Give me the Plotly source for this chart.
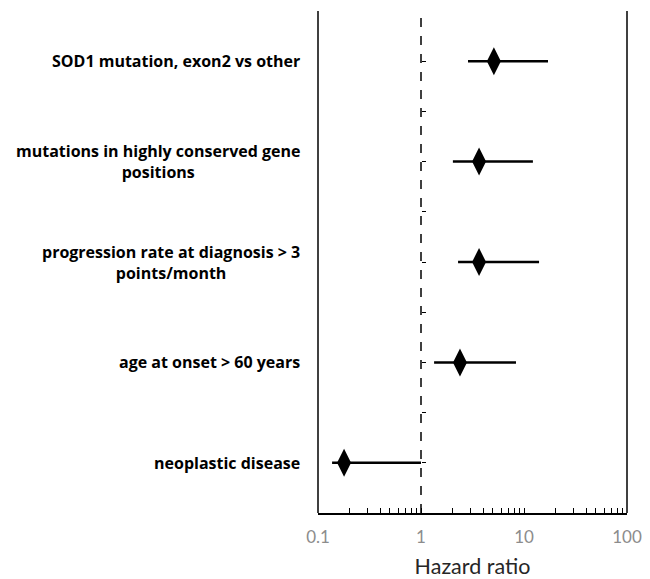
import plotly.graph_objects as go

labels = [
    "SOD1 mutation, exon2 vs other",
    "mutations in highly conserved gene<br>positions",
    "progression rate at diagnosis > 3<br>points/month",
    "age at onset > 60 years",
    "neoplastic disease",
]
hr = [5.1, 3.66, 3.66, 2.39, 0.179]
ci_low = [2.86, 2.04, 2.29, 1.34, 0.137]
ci_high = [17.1, 12.2, 14.0, 8.36, 1.0]
ypos = [5, 4, 3, 2, 1]

x_tickvals = [0.1, 1, 10, 100]
x_ticktext = ["0.1", "1", "10", "100"]
minor_vals = [d * m for m in (0.1, 1, 10) for d in range(2, 10)]

fig = go.Figure()
fig.add_trace(go.Scatter(
    x=hr, y=ypos, mode="markers",
    marker=dict(symbol="diamond-tall", size=20, color="black"),
    error_x=dict(type="data", symmetric=False,
                 array=[h - v for h, v in zip(ci_high, hr)],
                 arrayminus=[v - l for v, l in zip(hr, ci_low)],
                 width=0, thickness=2.5, color="black"),
    showlegend=False, hoverinfo="skip",
))

for lab, y in zip(labels, ypos):
    fig.add_annotation(x=0, xref="paper", y=y, yref="y", text="<b>" + lab + "</b>",
                       xanchor="right", yanchor="middle", xshift=-16, align="center",
                       showarrow=False, font=dict(family="Open Sans", size=16, color="black"))

# dashed reference line at HR = 1
fig.add_shape(type="line", x0=1, x1=1, xref="x", y0=0, y1=1, yref="paper",
              line=dict(color="black", width=1.5, dash="dash"))
# left and right frame lines
for px in (0, 1):
    fig.add_shape(type="line", x0=px, x1=px, xref="paper", y0=0, y1=1, yref="paper",
                  line=dict(color="black", width=1.5))

fig.update_layout(
    width=650, height=579,
    margin=dict(l=310, r=31, t=3, b=74),
    plot_bgcolor="white", paper_bgcolor="white",
    xaxis=dict(type="log", range=[-1, 2], tickvals=x_tickvals, ticktext=x_ticktext,
               automargin=False,
               showgrid=False, zeroline=False, showline=True, linecolor="black", linewidth=1.5,
               ticks="inside", ticklen=5, tickcolor="black", tickwidth=1,
               minor=dict(tickvals=minor_vals, ticks="inside", ticklen=5, tickcolor="black", tickwidth=1),
               tickfont=dict(family="Lato", size=17, color="#8c8c8c"),
               ticklabelstandoff=8,
               title=dict(text="Hazard ratio", font=dict(family="Lato", size=21.5, color="#262626"), standoff=13)),
    yaxis=dict(range=[0.5, 5.5], anchor="free", position=1/3, showgrid=False, zeroline=False,
               showline=False, tickvals=[1, 1.5, 2, 2.5, 3, 3.5, 4, 4.5, 5],
               ticks="inside", ticklen=4, tickcolor="black", tickwidth=1,
               showticklabels=False),
)

fig.write_html("out.html")
